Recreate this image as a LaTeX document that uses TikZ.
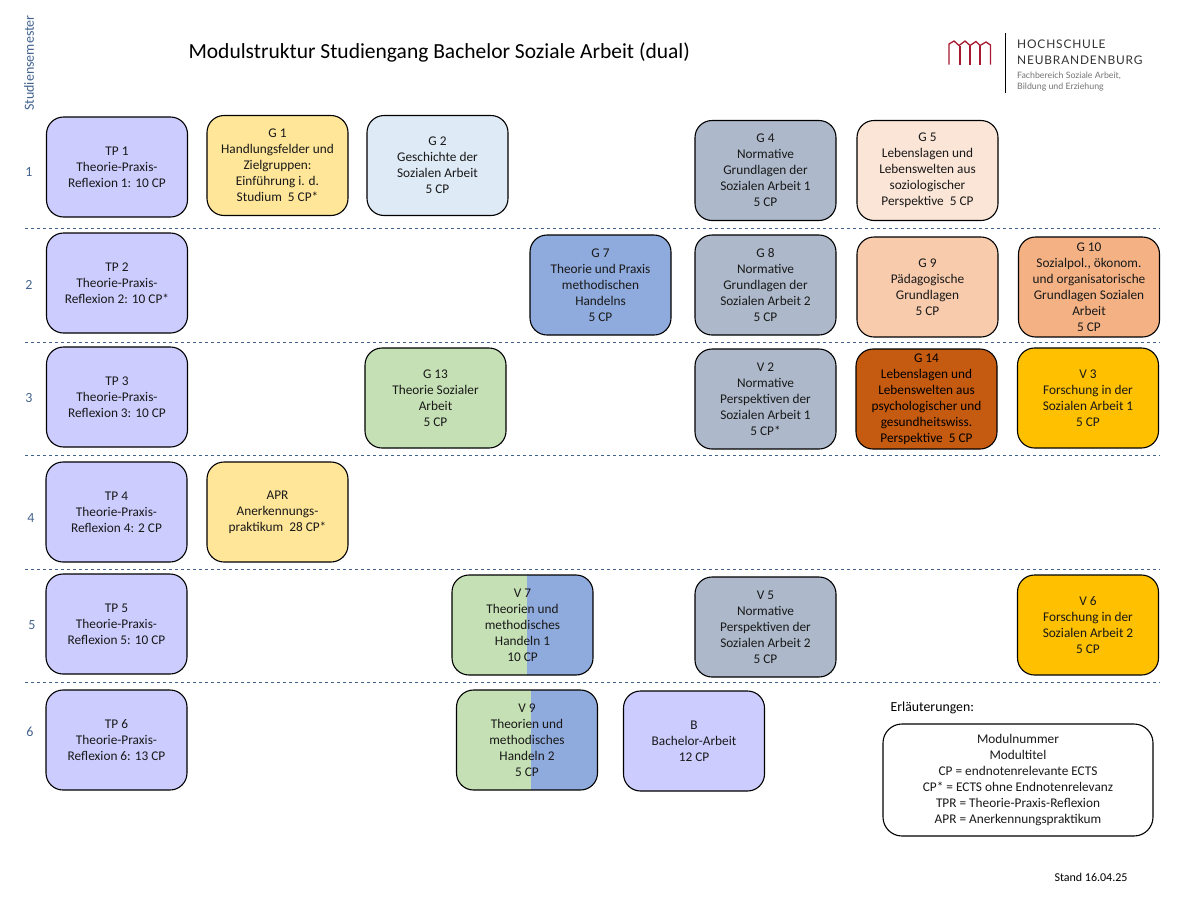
\documentclass[tikz,border=0pt]{standalone}
\usepackage{fontspec}
\setmainfont{Carlito}
\newfontfamily\logofont[LetterSpace=7]{Lato}
\newfontfamily\logosub{Lato}
\definecolor{tpblue}{HTML}{CCCCFF}
\definecolor{gyellow}{HTML}{FFE699}
\definecolor{glight}{HTML}{DEEAF6}
\definecolor{ggrey}{HTML}{ADB9CA}
\definecolor{gpeach}{HTML}{FBE5D6}
\definecolor{gsalmon}{HTML}{F8CBAD}
\definecolor{gorange}{HTML}{F4B183}
\definecolor{gbrown}{HTML}{C55A11}
\definecolor{ggreen}{HTML}{C5E0B4}
\definecolor{gmid}{HTML}{8FAADC}
\definecolor{vgold}{HTML}{FFC000}
\definecolor{semblue}{HTML}{44638F}
\definecolor{logored}{HTML}{A6192E}
\tikzset{
  modul/.style={draw=black,line width=1.1pt,rounded corners=17pt,minimum width=141pt,
    minimum height=100pt,align=center,inner sep=1pt,text=black!90,
    font=\fontsize{13.3}{16}\selectfont},
  semnum/.style={text=semblue,font=\fontsize{14}{16}\selectfont},
  septrenn/.style={dashed,semblue,line width=0.8pt},
  halfmodul/.style={modul,path picture={
    \fill[ggreen,sharp corners] (path picture bounding box.south west) rectangle ([xshift=#1]path picture bounding box.north);
    \fill[gmid,sharp corners] ([xshift=#1]path picture bounding box.north) rectangle (path picture bounding box.south east);}},
}
\begin{document}
\begin{tikzpicture}[x=1pt,y=-1pt]
  \useasboundingbox (0,0) rectangle (1200,900);
  % kopf
  \node[anchor=west,font=\fontsize{21.5}{24}\selectfont] (titel) at (185,52) {Modulstruktur Studiengang Bachelor Soziale Arbeit (dual)};
  \node[rotate=90,semnum] (semester) at (29,63) {Studiensemester};
  \draw[logored,line width=1.3pt] (949,64.5) -- (949,44) -- (954,41) -- (959,45.5) -- (965,41) -- (970,45.5) -- (976,41.5) -- (980,45.5) -- (986,42) -- (990.5,45) -- (990.5,64.5);
  \draw[logored,line width=1.3pt] (960,45.5) -- (960,64.5);
  \draw[logored,line width=1.3pt] (970,45.5) -- (970,64.5);
  \draw[logored,line width=1.3pt] (980,45.5) -- (980,64.5);
  \draw[black,line width=1pt] (1005,33) -- (1005,93);
  \node[anchor=west,inner sep=0pt,font=\logofont\fontsize{11.9}{14}\selectfont,text=black!80] (hs) at (1017,44.5) {HOCHSCHULE};
  \node[anchor=west,inner sep=0pt,font=\logofont\fontsize{11.9}{14}\selectfont,text=black!80] (nb) at (1017,60.5) {NEUBRANDENBURG};
  \node[anchor=north west,inner sep=0pt,align=left,font=\logosub\fontsize{8.8}{11}\selectfont,text=black!55] (fb) at (1017,72) {Fachbereich Soziale Arbeit,\\Bildung und Erziehung};
  % semester
  \node[semnum] (s1) at (29,172) {1};
  \node[semnum] (s2) at (29,285) {2};
  \node[semnum] (s3) at (29,398) {3};
  \node[semnum] (s4) at (31,518) {4};
  \node[semnum] (s5) at (32,625) {5};
  \node[semnum] (s6) at (30,732) {6};
  \foreach \y in {228,342,455,569,682}
    \draw[septrenn] (25,\y) -- (1160,\y);
  % theorie-praxis
  \node[modul,fill=tpblue] (tp1) at (117,167) {TP 1\\Theorie-Praxis-\\Reflexion 1: 10 CP};
  \node[modul,fill=tpblue] (tp2) at (117,283) {TP 2\\Theorie-Praxis-\\Reflexion 2: 10 CP*};
  \node[modul,fill=tpblue] (tp3) at (117,397) {TP 3\\Theorie-Praxis-\\Reflexion 3: 10 CP};
  \node[modul,fill=tpblue] (tp4) at (116.5,512) {TP 4\\Theorie-Praxis-\\Reflexion 4: 2 CP};
  \node[modul,fill=tpblue] (tp5) at (116.5,624) {TP 5\\Theorie-Praxis-\\Reflexion 5: 10 CP};
  \node[modul,fill=tpblue] (tp6) at (116.5,740) {TP 6\\Theorie-Praxis-\\Reflexion 6: 13 CP};
  % semester 1
  \node[modul,fill=gyellow] (g1) at (277.5,165.5) {G 1\\Handlungsfelder und\\Zielgruppen:\\Einführung i. d.\\Studium\ \ 5 CP*};
  \node[modul,fill=glight] (g2) at (437.5,165.5) {G 2\\Geschichte der\\Sozialen Arbeit\\5 CP};
  \node[modul,fill=ggrey] (g4) at (765.5,170.5) {G 4\\Normative\\Grundlagen der\\Sozialen Arbeit 1\\5 CP};
  \node[modul,fill=gpeach] (g5) at (927.5,170.5) {G 5\\Lebenslagen und\\Lebenswelten aus\\soziologischer\\Perspektive\ \ 5 CP};
  % semester 2
  \node[modul,fill=gmid] (g7) at (600.5,285) {G 7\\Theorie und Praxis\\methodischen\\Handelns\\5 CP};
  \node[modul,fill=ggrey] (g8) at (765.5,285) {G 8\\Normative\\Grundlagen der\\Sozialen Arbeit 2\\5 CP};
  \node[modul,fill=gsalmon] (g9) at (927.5,287) {G 9\\Pädagogische\\Grundlagen\\5 CP};
  \node[modul,fill=gorange] (g10) at (1089,287) {G 10\\Sozialpol., ökonom.\\und organisatorische\\Grundlagen Sozialen\\Arbeit\\5 CP};
  % semester 3
  \node[modul,fill=ggreen] (g13) at (435.5,398) {G 13\\Theorie Sozialer\\Arbeit\\5 CP};
  \node[modul,fill=ggrey] (v2) at (765.5,399) {V 2\\Normative\\Perspektiven der\\Sozialen Arbeit 1\\5 CP*};
  \node[modul,fill=gbrown,text=black] (g14) at (926.5,399) {G 14\\Lebenslagen und\\Lebenswelten aus\\psychologischer und\\gesundheitswiss.\\Perspektive\ \ 5 CP};
  \node[modul,fill=vgold] (v3) at (1088,398) {V 3\\Forschung in der\\Sozialen Arbeit 1\\5 CP};
  % semester 4
  \node[modul,fill=gyellow] (apr) at (277.5,512) {APR\\Anerkennungs-\\praktikum\ \ 28 CP*};
  % semester 5
  \node[halfmodul=4.5pt] (v7) at (522.5,625) {V 7\\Theorien und\\methodisches\\Handeln 1\\10 CP};
  \node[modul,fill=ggrey] (v5) at (765.5,627) {V 5\\Normative\\Perspektiven der\\Sozialen Arbeit 2\\5 CP};
  \node[modul,fill=vgold] (v6) at (1088,625) {V 6\\Forschung in der\\Sozialen Arbeit 2\\5 CP};
  % semester 6
  \node[halfmodul=3.5pt] (v9) at (527,740) {V 9\\Theorien und\\methodisches\\Handeln 2\\5 CP};
  \node[modul,fill=tpblue] (b) at (694,741) {B\\Bachelor-Arbeit\\12 CP};
  % legende
  \node[anchor=west,font=\fontsize{13.8}{16}\selectfont] (erl) at (887,708) {Erläuterungen:};
  \node[modul,minimum width=270pt,minimum height=112pt,rounded corners=19pt,fill=white] (leg) at (1018,780) {Modulnummer\\Modultitel\\CP = endnotenrelevante ECTS\\CP* = ECTS ohne Endnotenrelevanz\\TPR = Theorie-Praxis-Reflexion\\APR = Anerkennungspraktikum};
  \node[font=\fontsize{12}{14}\selectfont] (stand) at (1091,877) {Stand 16.04.25};
\end{tikzpicture}
\end{document}
